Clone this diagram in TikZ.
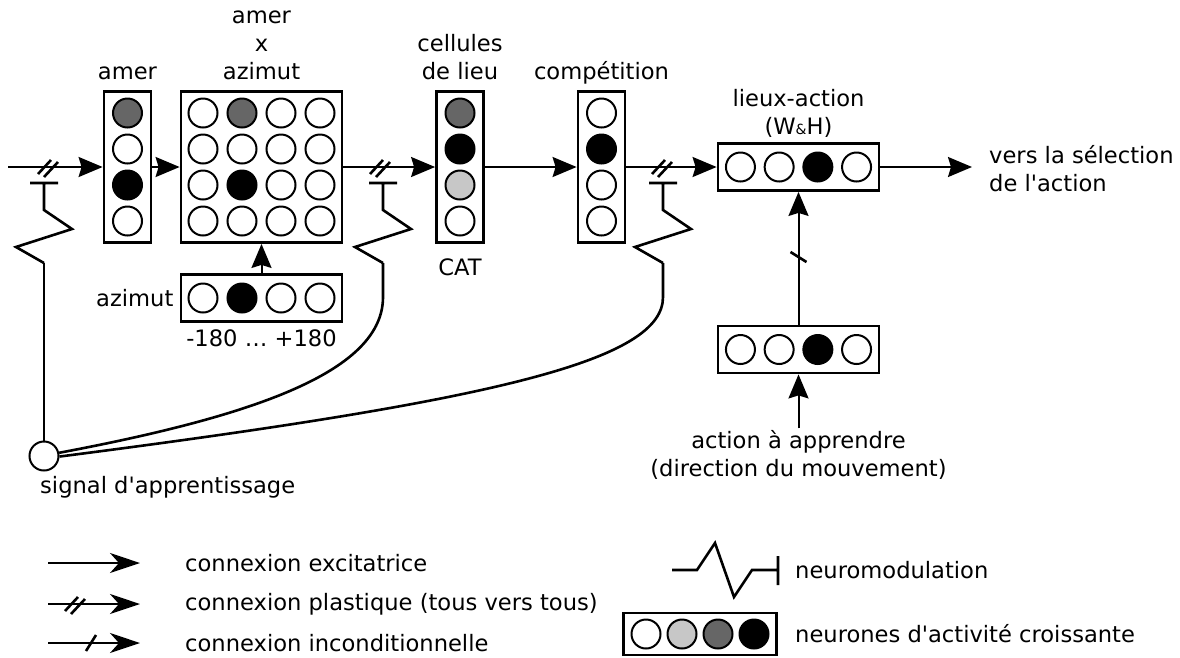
\documentclass[tikz,border=0pt]{standalone}
\usepackage{fontspec}
\newfontfamily\dejavu{DejaVu Sans}
\usetikzlibrary{positioning, arrows.meta}

\definecolor{mid}{gray}{0.4}
\definecolor{light}{gray}{0.78}

\begin{document}
\begin{tikzpicture}
    [
        x=1pt, y=-1pt,
        font=\dejavu\fontsize{22.6}{28}\selectfont,
        neuron/.style={circle, draw, line width=2pt, minimum size=29pt, inner sep=0pt},
        layer/.style={draw, line width=2.8pt, inner sep=0pt},
        vcol/.style={layer, minimum width=47pt, minimum height=151pt},
        hrow/.style={layer, minimum width=161pt, minimum height=47pt},
        lbl/.style={align=center, inner sep=2pt, text depth=0pt},
        conn/.style={line width=2pt, -{Stealth[length=24pt, width=20pt, inset=3pt]}},
        legconn/.style={line width=2.4pt, -{Stealth[length=30pt, width=20pt, inset=9pt]}},
        modul/.style={line width=2.6pt},
        plastic/.pic={\draw[modul] (-10,7) -- (3,-7) (-4,10) -- (10,-5);},
        uncond/.pic={\draw[modul] (-5,8) -- (5,-8);},
        modulation/.pic={
            \draw[modul] (-14,0) -- (14,0) (0,0) -- (0,27) -- (28,46) -- (-28,64) -- (0,80);
            \coordinate (-end) at (0,80);
        },
    ]
    \useasboundingbox (0,0) rectangle (1180,657);

    % couches
    \node[vcol] (amer) at (127.5,167) {};
    \node[layer, minimum width=161pt, minimum height=151pt] (grid) at (261.5,167) {};
    \node[hrow] (azim) at (261.5,298) {};
    \node[vcol] (cat) at (460,167) {};
    \node[vcol] (comp) at (601.5,167) {};
    \node[hrow] (la) at (798.5,167) {};
    \node[hrow] (act) at (798.5,349.5) {};

    \foreach \c [count=\i] in {mid,white,black,white}
        \node[neuron, fill=\c] (amer\i) at (127.5,{167+36*(\i-2.5)}) {};
    \foreach \cols [count=\r] in {{white,mid,white,white},{white,white,white,white},{white,black,white,white},{white,white,white,white}}
        \foreach \c [count=\i] in \cols
            \node[neuron, fill=\c] (grid\r\i) at ({261.5+39*(\i-2.5)},{167+36*(\r-2.5)}) {};
    \foreach \c [count=\i] in {white,black,white,white}
        \node[neuron, fill=\c] (azim\i) at ({261.5+39*(\i-2.5)},298) {};
    \foreach \c [count=\i] in {mid,black,light,white}
        \node[neuron, fill=\c] (cat\i) at (460,{167+36*(\i-2.5)}) {};
    \foreach \c [count=\i] in {white,black,white,white}
        \node[neuron, fill=\c] (comp\i) at (601.5,{167+36*(\i-2.5)}) {};
    \foreach \c [count=\i] in {white,white,black,white} {
        \node[neuron, fill=\c] (la\i) at ({798.5+38.7*(\i-2.5)},167) {};
        \node[neuron, fill=\c] (act\i) at ({798.5+38.7*(\i-2.5)},349.5) {};
    }

    % textes
    \node[lbl, above=8pt of amer] (tamer) {amer};
    \node[lbl, above=8pt of grid] (tgrid) {amer\\x\\azimut};
    \node[lbl, above=8pt of cat] (tcat) {cellules\\de lieu};
    \node[lbl, above=8pt of comp] (tcomp) {compétition};
    \node[lbl, above=5pt of la] (tla) {lieux-action\\(W{\fontsize{14}{14}\selectfont\&}H)};
    \node[inner sep=2pt, below=13pt of cat] (tcatb) {CAT};
    \node[inner sep=2pt, left=4pt of azim] (tazim) {azimut};
    \node[inner sep=2pt, below=5pt of azim] (tdeg) {-180 … +180};
    \node[anchor=west, align=left, inner sep=2pt] (vers) at (987,169) {vers la sélection\\de l'action};
    \node[align=center, inner sep=2pt] (action) at (798.5,455) {action à apprendre\\(direction du mouvement)};

    % connexions
    \coordinate (in) at (8,167);
    \draw[conn] (in) -- (amer);
    \draw[conn] (amer) -- (grid);
    \draw[conn] (grid) -- (cat);
    \draw[conn] (cat) -- (comp);
    \draw[conn] (comp) -- (la);
    \draw[conn, shorten >=15pt] (la) -- (la -| vers.west);
    \draw[conn] (azim) -- (grid);
    \draw[conn] (action) -- (act);
    \draw[conn] (act) -- (la);
    \pic[rotate=90] at (798.5,257) {uncond};
    \pic at (48,167) {plastic};
    \pic at (380,167) {plastic};
    \pic at (662,167) {plastic};

    % neuromodulation
    \pic (m1) at (44,183) {modulation};
    \pic (m2) at (383,183) {modulation};
    \pic (m3) at (663,183) {modulation};
    \node[neuron] (signal) at (44,456) {};
    \node[anchor=north west, inner sep=0pt] (tsignal) at (40,476) {signal d'apprentissage};
    \draw[modul] (m1-end) -- (signal);
    \draw[modul] (m2-end) -- ++(0,34) .. controls (383,370) and (260,415) .. (signal.12);
    \draw[modul] (m3-end) -- ++(0,34) .. controls (663,360) and (500,400) .. (signal.-2);

    % legende
    \coordinate (l1) at (48,563);
    \coordinate (l2) at (48,604);
    \coordinate (l3) at (48,643);
    \node[anchor=west, inner sep=2pt] (texc) at (183,563) {connexion excitatrice};
    \node[anchor=west, inner sep=2pt] (tpla) at (183,604) {connexion plastique (tous vers tous)};
    \node[anchor=west, inner sep=2pt] (tinc) at (183,643) {connexion inconditionnelle};
    \draw[legconn, shorten >=43pt] (l1) -- (l1 -| texc.west);
    \draw[legconn, shorten >=43pt] (l2) -- (l2 -| tpla.west);
    \draw[legconn, shorten >=43pt] (l3) -- (l3 -| tinc.west);
    \pic at (75,604) {plastic};
    \pic at (91,643) {uncond};

    \coordinate (n0) at (672,570);
    \draw[modul] (n0) -- (697,570) -- (715,543) -- (734,597) -- (752,570) -- (778,570) (778,556) -- (778,585);
    \node[anchor=west, inner sep=2pt] (tmod) at (793,570) {neuromodulation};
    \node[layer, minimum width=153pt, minimum height=42pt] (leg) at (700,634) {};
    \foreach \c [count=\i] in {white,light,mid,black}
        \node[neuron, fill=\c] (leg\i) at ({700+36*(\i-2.5)},634) {};
    \node[anchor=west, inner sep=2pt] (tleg) at (793,634) {neurones d'activité croissante};
\end{tikzpicture}
\end{document}
